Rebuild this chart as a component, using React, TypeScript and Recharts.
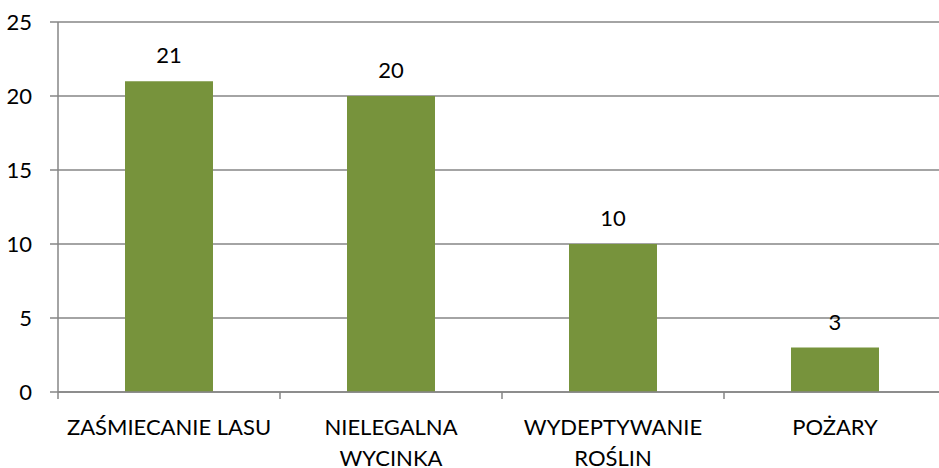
import React from 'react';
import { BarChart, Bar, XAxis, YAxis, CartesianGrid, LabelList } from 'recharts';

const categories = ['ZAŚMIECANIE LASU', 'NIELEGALNA WYCINKA', 'WYDEPTYWANIE ROŚLIN', 'POŻARY'];
const values = [21, 20, 10, 3];
const yTicks = [0, 5, 10, 15, 20, 25];

const chartData = categories.map((name, i) => ({ name, value: values[i] }));

const FONT = 'Lato, "Open Sans", sans-serif';
const AXIS = '#868686';
const BAND = 222;

// greedy wrap, same as office charts do for long category names
const wrap = (text: string, max: number) => {
  const lines: string[] = [];
  let cur = '';
  text.split(' ').forEach(w => {
    const next = cur ? cur + ' ' + w : w;
    if (next.length > max && cur) {
      lines.push(cur);
      cur = w;
    } else {
      cur = next;
    }
  });
  if (cur) lines.push(cur);
  return lines;
};

const CategoryTick: React.FC<any> = ({ x, y, payload }) => {
  const lines = wrap(payload.value, 16);
  return (
    <g>
      <line x1={x - BAND / 2} x2={x - BAND / 2} y1={y} y2={y + 7} stroke={AXIS} strokeWidth={1.5} />
      <text x={x} y={y + 43} textAnchor="middle" fill="#000" fontSize={22} fontFamily={FONT}>
        {lines.map((l, i) => (
          <tspan key={i} x={x} dy={i === 0 ? 0 : 31}>{l}</tspan>
        ))}
      </text>
    </g>
  );
};

const App: React.FC = () => {
  return (
    <div style={{ position: 'fixed', left: 0, top: 0, width: 939, height: 468, overflow: 'hidden', background: '#fff' }}>
      <BarChart
        width={950}
        height={468}
        data={chartData}
        margin={{ top: 22, right: 4, bottom: 0, left: 0 }}
      >
        <CartesianGrid vertical={false} stroke={AXIS} strokeWidth={1.5} />
        <XAxis
          dataKey="name"
          height={76}
          axisLine={{ stroke: AXIS, strokeWidth: 1.5 }}
          tickLine={false}
          tickSize={0}
          tickMargin={0}
          interval={0}
          tick={<CategoryTick />}
        />
        <YAxis
          domain={[0, 25]}
          ticks={yTicks}
          width={58}
          tickSize={8}
          tickMargin={18}
          axisLine={{ stroke: AXIS, strokeWidth: 1.5 }}
          tickLine={{ stroke: AXIS, strokeWidth: 1.5 }}
          tick={{ fill: '#000', fontSize: 22, fontFamily: FONT }}
        />
        <Bar dataKey="value" fill="#77933C" barSize={88} isAnimationActive={false}>
          <LabelList dataKey="value" position="top" offset={18} fill="#000" fontSize={22} fontFamily={FONT} />
        </Bar>
      </BarChart>
    </div>
  );
};

export default App;
